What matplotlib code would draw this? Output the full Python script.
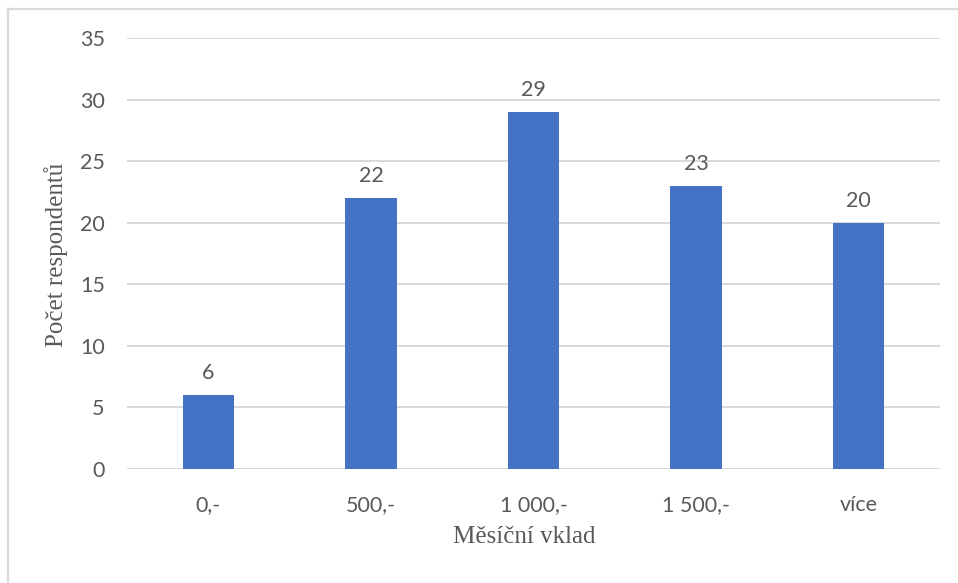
import matplotlib
matplotlib.use("Agg")
import matplotlib.pyplot as plt
from matplotlib.lines import Line2D

categories = ["0,-", "500,-", "1 000,-", "1 500,-", "více"]
values = [6, 22, 29, 23, 20]
yticks = [0, 5, 10, 15, 20, 25, 30, 35]
xlabel = "Měsíční vklad"
ylabel = "Počet respondentů"

W, H = 958, 583
fig = plt.figure(figsize=(W / 100, H / 100), dpi=100)
ax = fig.add_axes([127 / W, 1 - 469 / H, (940 - 127) / W, (469 - 38) / H])

grid_c = "#d9d9d9"
text_c = "#595959"
tick_font = "Lato"
x = list(range(len(categories)))

ax.set_axisbelow(True)
for y in yticks:
    ax.axhline(y, color=grid_c, lw=1.4, zorder=0)
bars = ax.bar(x, values, width=0.315, color="#4472C4", zorder=2)

for xi, v in zip(x, values):
    ax.annotate(str(v), (xi, v), xytext=(0, 11.5), textcoords="offset points",
                ha="center", va="baseline", fontsize=15.5, color=text_c,
                family=tick_font)

ax.set_xlim(-0.5, len(categories) - 0.5)
ax.set_ylim(0, 35)
ax.set_yticks(yticks)
ax.set_xticks(x)
ax.set_xticklabels(categories)
for s in ax.spines.values():
    s.set_visible(False)
ax.tick_params(axis="both", length=0, labelsize=15.5, labelcolor=text_c)
ax.tick_params(axis="x", pad=19)
ax.tick_params(axis="y", pad=16)
for lab in ax.get_xticklabels() + ax.get_yticklabels():
    lab.set_family(tick_font)

ax.set_xlabel(xlabel, family="Liberation Serif", fontsize=18, color=text_c)
ax.set_ylabel(ylabel, family="Liberation Serif", fontsize=18, color=text_c)
ax.xaxis.set_label_coords((524 - 127) / (940 - 127), (469 - 537) / (469 - 38))
ax.yaxis.set_label_coords((56 - 127) / (940 - 127), (469 - 255) / (469 - 38))
ax.xaxis.label.set_va("center")
ax.yaxis.label.set_va("center")

# outer frame (left and top edges visible)
fig.add_artist(Line2D([8 / W, 8 / W], [0, 1 - 9 / H], transform=fig.transFigure,
                      color=grid_c, lw=1.6))
fig.add_artist(Line2D([8 / W, 1], [1 - 9 / H, 1 - 9 / H], transform=fig.transFigure,
                      color=grid_c, lw=1.6))

fig.savefig("out.png", dpi=100)
